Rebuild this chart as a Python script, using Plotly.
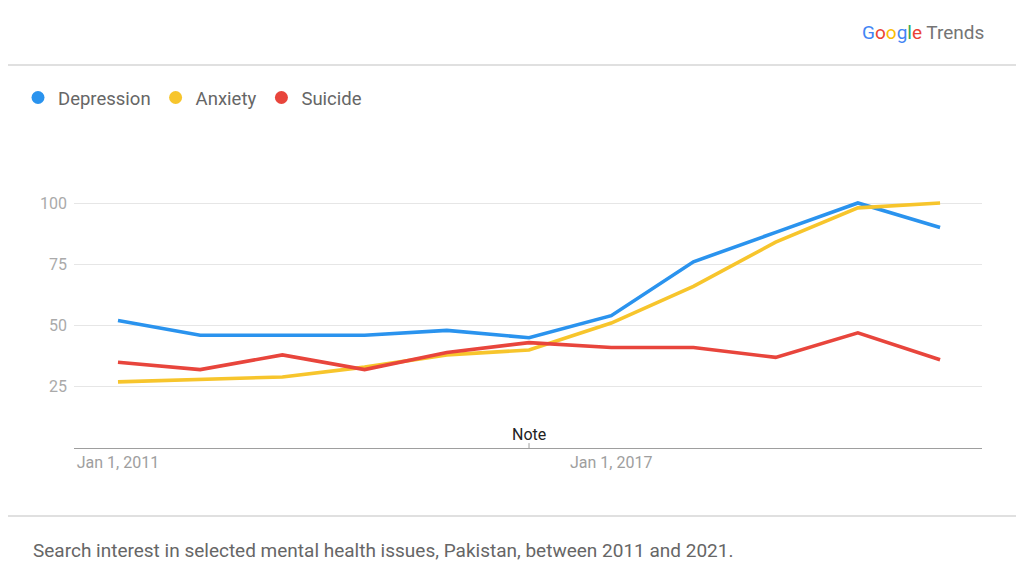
import plotly.graph_objects as go

years = [2011, 2012, 2013, 2014, 2015, 2016, 2017, 2018, 2019, 2020, 2021]
depression = [52, 46, 46, 46, 48, 45, 54, 76, 88, 100, 90]
anxiety = [27, 28, 29, 33, 38, 40, 51, 66, 84, 98, 100]
suicide = [35, 32, 38, 32, 39, 43, 41, 41, 37, 47, 36]

series_names = ["Depression", "Anxiety", "Suicide"]
series_values = [depression, anxiety, suicide]
colors = ["#2A93EE", "#F7C52C", "#E8453C"]

tick_vals = [2011, 2017]
tick_text = ["Jan 1, 2011", "Jan 1, 2017"]
y_ticks = [25, 50, 75, 100]
note_year = 2016

FONT = "Roboto"
OFF = 8  # page body margin
W, H = 1024 - OFF, 581 - OFF
ML, MT = 74 - OFF, 154 - OFF
MR = W - (982 - OFF)
MB = H - (448 - OFF)
PW, PH = W - ML - MR, H - MT - MB


def px_x(px):
    return (px - OFF - ML) / PW


def px_y(py):
    return (H - MB - (py - OFF)) / PH


fig = go.Figure()
for name, vals, col in zip(series_names, series_values, colors):
    fig.add_trace(go.Scatter(x=years, y=vals, mode="lines", name=name,
                             line=dict(color=col, width=3.6),
                             showlegend=False, hoverinfo="skip"))
# legend entries shown as dots
for name, col in zip(series_names, colors):
    fig.add_trace(go.Scatter(x=[None], y=[None], mode="markers", name=name,
                             marker=dict(color=col, size=13, symbol="circle")))

fig.update_layout(
    width=W, height=H,
    margin=dict(l=ML, r=MR, t=MT, b=MB),
    paper_bgcolor="white", plot_bgcolor="white",
    font=dict(family=FONT, color="#666666"),
    legend=dict(orientation="h", xref="container", yref="container",
                x=10 / W, y=(H - (98 - OFF)) / H, xanchor="left", yanchor="middle",
                font=dict(size=18.5, color="#666666"),
                itemclick=False, itemdoubleclick=False),
    xaxis=dict(range=[2010.465, 2021.51], tickvals=tick_vals, ticktext=tick_text,
               showgrid=False, zeroline=False, showline=True,
               linecolor="#9e9e9e", linewidth=1,
               tickfont=dict(size=16, color="#9e9e9e"), ticks=""),
    yaxis=dict(range=[0, 120], tickvals=y_ticks, showgrid=True,
               gridcolor="#e6e6e6", gridwidth=1, zeroline=False,
               showline=False, ticks="", ticklabelstandoff=6,
               tickfont=dict(size=16, color="#aaaaaa")),
)

# Note marker
fig.add_shape(type="line", xref="x", yref="y", x0=note_year, x1=note_year,
              y0=0, y1=2, line=dict(color="#9e9e9e", width=1))
fig.add_annotation(x=note_year, y=0, xref="x", yref="y", yshift=14,
                   text="Note", showarrow=False,
                   font=dict(size=16, color="#222222", family=FONT))

# header / footer separators
for py in (65, 516):
    fig.add_shape(type="line", xref="paper", yref="paper",
                  x0=px_x(0), x1=px_x(1030), y0=px_y(py), y1=px_y(py),
                  line=dict(color="#e0e0e0", width=2))

# Google Trends logo
logo = ('<span style="color:#4285F4">G</span><span style="color:#EA4335">o</span>'
        '<span style="color:#FBBC05">o</span><span style="color:#4285F4">g</span>'
        '<span style="color:#34A853">l</span><span style="color:#EA4335">e</span>'
        '<span style="color:#757575"> Trends</span>')
fig.add_annotation(xref="paper", yref="paper", x=px_x(986), y=px_y(32),
                   xanchor="right", yanchor="middle", text=logo, showarrow=False,
                   font=dict(size=19, family=FONT))

# footer caption
fig.add_annotation(xref="paper", yref="paper", x=px_x(31), y=px_y(550),
                   xanchor="left", yanchor="middle",
                   text="Search interest in selected mental health issues, Pakistan, between 2011 and 2021.",
                   showarrow=False, font=dict(size=19, color="#666666", family=FONT))

fig.write_html("out.html")
